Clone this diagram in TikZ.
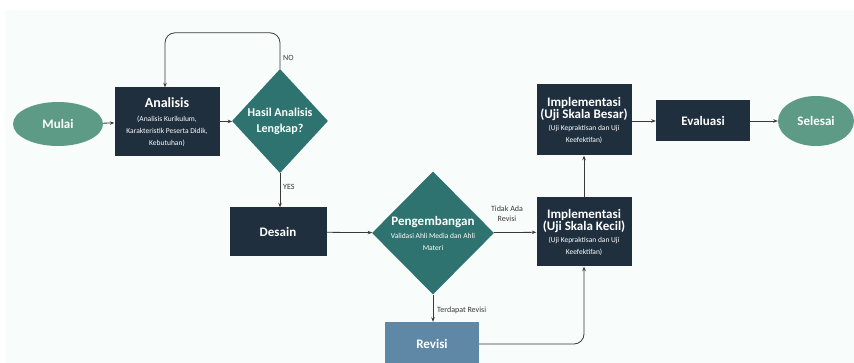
\documentclass[tikz,border=0pt]{standalone}
\usepackage{fontspec}
\setmainfont{Carlito}
\usetikzlibrary{shapes.geometric,arrows.meta}
\definecolor{navy}{HTML}{1F2F3D}
\definecolor{teal}{HTML}{2E736F}
\definecolor{mint}{HTML}{5E9B86}
\definecolor{steel}{HTML}{5F88A6}
\definecolor{linec}{HTML}{3A3A3A}
\definecolor{bgc}{HTML}{F8FCFB}
\tikzset{
  darkbox/.style={draw=none, fill=navy, text=white, align=center, inner sep=2pt},
  termnode/.style={ellipse, fill=mint, text=white, font=\fontsize{13}{15}\selectfont\bfseries, inner sep=0pt},
  decnode/.style={diamond, fill=teal, inner sep=0pt},
  dectext/.style={text=white, align=center, inner sep=0pt},
  conn/.style={draw=linec, line width=0.8pt, -{Stealth[length=4.5pt,width=3.5pt]}},
  lbl/.style={text=linec, font=\fontsize{8}{9.5}\selectfont, align=center, inner sep=0pt},
}
\newcommand{\subf}{\fontsize{7.5}{10.5}\selectfont\mdseries}
\newcommand{\ttlf}{\fontsize{13}{18}\selectfont\bfseries}
\begin{document}
\begin{tikzpicture}[x=1pt,y=-1pt]
\useasboundingbox (0,0) rectangle (854,363);
\fill[white] (0,0) rectangle (854,363);
\fill[bgc] (5,10) rectangle (854,363);

\node[termnode, minimum width=90, minimum height=44] (mulai) at (58,124) {Mulai};
\node[darkbox, minimum width=105, minimum height=69] (analisis) at (167,122)
  {\fontsize{14}{17}\selectfont\bfseries Analisis\\[2pt]\subf (Analisis Kurikulum,\\\subf Karakteristik Peserta Didik,\\\subf Kebutuhan)};
\node[decnode, minimum width=96, minimum height=104] (hasil) at (280,121) {};
\node[dectext, font=\fontsize{12}{16}\selectfont\bfseries] (hasilt) at (hasil.center) {Hasil Analisis\\Lengkap?};
\node[darkbox, minimum width=97, minimum height=49, font=\fontsize{13}{15}\selectfont\bfseries] (desain) at (278,232) {Desain};
\node[decnode, minimum width=122, minimum height=123] (peng) at (433,233) {};
\node[dectext] (pengt) at (peng.center) {\ttlf Pengembangan\\[1pt]\subf Validasi Ahli Media dan Ahli\\\subf Materi};
\node[darkbox, minimum width=95, minimum height=69] (kecil) at (584,232)
  {\ttlf Implementasi\\\ttlf (Uji Skala Kecil)\\\subf (Uji Kepraktisan dan Uji\\\subf Keefektifan)};
\node[darkbox, minimum width=95, minimum height=71] (besar) at (584,120)
  {\ttlf Implementasi\\\ttlf (Uji Skala Besar)\\\subf (Uji Kepraktisan dan Uji\\\subf Keefektifan)};
\node[darkbox, minimum width=94, minimum height=41, font=\fontsize{13}{15}\selectfont\bfseries] (evaluasi) at (703,121) {Evaluasi};
\node[termnode, minimum width=76, minimum height=50] (selesai) at (816,121) {Selesai};
\node[darkbox, fill=steel, minimum width=94, minimum height=44, font=\fontsize{13}{15}\selectfont\bfseries] (revisi) at (432,344) {Revisi};

\draw[conn] (mulai) -- (analisis);
\draw[conn] (analisis) -- (hasil);
\draw[conn, rounded corners=10pt] (hasil.north) -- ++(0,-36) -| ([xshift=-2pt]analisis.north);
\draw[conn] (hasil.south) -- (desain.north -| hasil.south);
\draw[conn] (desain) -- (peng);
\draw[conn] (peng) -- (kecil);
\draw[conn] (peng.south) -- (revisi.north -| peng.south);
\draw[conn, rounded corners=10pt] (revisi.east) -| (kecil.south);
\draw[conn] (kecil) -- (besar);
\draw[conn] (besar.east |- evaluasi.west) -- (evaluasi.west);
\draw[conn] (evaluasi) -- (selesai);

\node[lbl, anchor=west] (no) at (283,58) {NO};
\node[lbl, anchor=west] (yes) at (283,187) {YES};
\node[lbl] (tidak) at (507,214) {Tidak Ada\\Revisi};
\node[lbl, anchor=west] (terdapat) at (437,310) {Terdapat Revisi};
\end{tikzpicture}
\end{document}
